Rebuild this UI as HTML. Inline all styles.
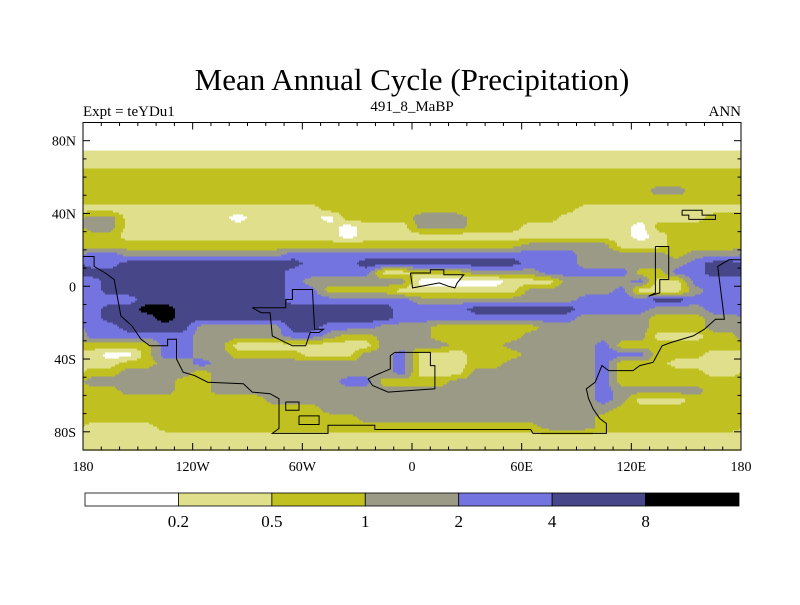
<!DOCTYPE html>
<html><head><meta charset="utf-8">
<style>
html,body{margin:0;padding:0;background:#fff;}
body{width:800px;height:600px;overflow:hidden;font-family:"Liberation Serif",serif;}
</style></head>
<body>
<svg id="chart" width="800" height="600" xmlns="http://www.w3.org/2000/svg" font-family="Liberation Serif, serif">
<rect width="800" height="600" fill="#fff"/>
<text x="412" y="90" font-size="31" text-anchor="middle">Mean Annual Cycle (Precipitation)</text>
<text x="83" y="116" font-size="15">Expt = teYDu1</text>
<text x="412" y="111" font-size="15" text-anchor="middle">491_8_MaBP</text>
<text x="741" y="116" font-size="15" text-anchor="end">ANN</text>
<g id="cells"></g>
<g id="coast"></g>
<rect x="83" y="122.5" width="658" height="327.5" fill="none" stroke="#000" stroke-width="1"/>
<g id="ticks"></g>
<g id="cbar"></g>
</svg>
<script>
const NS="http://www.w3.org/2000/svg";
const colors=["#ffffff","#e0e08c","#c0c020","#9a9a86","#7474e0","#464688","#000000"];
const levels=["0.2","0.5","1","2","4","8"];
const xTickLabels=["180","120W","60W","0","60E","120E","180"];
const xTickLons=[-180,-120,-60,0,60,120,180];
const yTickLabels=["80N","40N","0","40S","80S"];
const yTickLats=[80,40,0,-40,-80];
// class grid: rows from 87.5N to 87.5S step 5, cols from 175W to 175E step 10
const gridRows=[
"000000000000000000000000000000000000",
"000000000000000000000000000000000000",
"000000000000000000000000000000000000",
"111111111111111111111111111111111111",
"111111111111111111111111111111111111",
"222222222222222222222222222222222222",
"222222222222222222222222222222222222",
"222222222222222222222222222222233222",
"222222222222222222222222222222222222",
"111111111111122222222222222111111111",
"331111110111102222333222221111111122",
"331111111111110111333222111111022222",
"221111111111110111111111111111012222",
"222222222222222222222222333331112222",
"443333333334444444444444444333332333",
"445555555555444555555555444333333455",
"555555555554444411222333344444224455",
"455555555554333333000001113333411444",
"455555555554422221111111333334111344",
"444555555554444444333333333444455444",
"455665555555555554444555555444433344",
"455565555555555554444444444333322233",
"445555333335544433322222233333322233",
"444444333334432233322222333333311122",
"222244331111111133332223333342222222",
"100244332222111334111222333344422211",
"112233433333333334111223333342221111",
"223333233333333334111333333342222211",
"333332233333334422223333333342222222",
"223332233333333333333333333343333322",
"222222222233333333333333333343111222",
"222222222222233333333333333332222222",
"222222222222222333333333333322222222",
"111122222222222222222222233322222222",
"111111111111111111111111111111111111",
"111111111111111111111111111111111111"
];
const X0=83,X1=741,Y0=122.5,Y1=450;
function xScale(lon){return X0+(lon+180)/360*(X1-X0);}
function yScale(lat){return Y0+(90-lat)/180*(Y1-Y0);}
function val(r,c){r=Math.max(0,Math.min(35,r));c=((c%36)+36)%36;return +gridRows[r][c];}
function sample(lon,lat){
  const fc=(lon+175)/10, fr=(87.5-lat)/5;
  const c0=Math.floor(fc), r0=Math.floor(fr), tc=fc-c0, tr=fr-r0;
  const a=val(r0,c0),b=val(r0,c0+1),c=val(r0+1,c0),d=val(r0+1,c0+1);
  return (a*(1-tc)+b*tc)*(1-tr)+(c*(1-tc)+d*tc)*tr;
}
const cells=document.getElementById('cells');
const step=2;
for(let y=Y0;y<Y1;y+=step){
  const lat=90-(y+step/2-Y0)/(Y1-Y0)*180;
  let runStart=X0,runCls=-1;
  for(let x=X0;x<=X1;x+=step){
    let cls=-2;
    if(x<X1){const lon=-180+(x+step/2-X0)/(X1-X0)*360;cls=Math.round(sample(lon,lat));}
    if(cls!==runCls){
      if(runCls>=0){
        const r=document.createElementNS(NS,'rect');
        
        
        r.setAttribute('x',runStart);r.setAttribute('y',y);
        r.setAttribute('width',Math.min(x,X1)-runStart+0.4);r.setAttribute('height',step+0.4);
        r.setAttribute('fill',colors[runCls]);cells.appendChild(r);
      }
      runStart=x;runCls=cls;
    }
  }
}
function zl(zx,zy){return [-180+(zx-50)*0.2437,80-(zy-120)*0.1818];}
const coastLines=[
[[50,470],[75,470],[75,500],[100,520],[120,540],[135,650],[160,680],[180,720],[200,740],[240,740],[240,720],[260,720],[260,780],[275,820],[300,830],[330,850],[410,855],[430,880],[470,885],[490,900],[490,990],[475,1005],[600,1005],[600,980],[705,980],[705,993],[1055,993],[1060,1005],[1225,1005],[1225,975],[1210,960],[1195,930],[1185,900],[1180,870],[1200,850],[1215,800],[1230,815],[1285,815],[1300,800],[1330,790],[1350,740],[1370,730],[1420,710],[1445,690],[1470,660],[1490,660],[1475,500],[1500,480],[1527,480]],
[[430,625],[450,640],[470,640],[475,710],[520,740],[550,740],[560,700],[580,700],[590,690],[570,690],[565,570],[520,570],[520,600],[505,600],[505,625],[430,625]],
[[785,520],[830,520],[830,510],[860,510],[860,525],[905,525],[890,550],[885,565],[870,560],[850,550],[790,565],[785,520]],
[[750,760],[830,760],[830,800],[840,800],[840,870],[735,880],[700,860],[690,840],[705,830],[740,810],[740,770],[750,760]],
[[1335,440],[1365,440],[1365,540],[1345,540],[1345,580],[1320,590],[1335,580],[1335,440]],
[[1395,330],[1395,345],[1410,345],[1410,358],[1470,358],[1470,345],[1440,345],[1440,330],[1395,330]],
[[505,910],[535,910],[535,935],[505,935],[505,910]],
[[535,952],[580,952],[580,978],[535,978],[535,952]]
];
const coast=document.getElementById('coast');
coastLines.forEach(line=>{
  const p=document.createElementNS(NS,'polyline');
  
  
  p.setAttribute('points',line.map(q=>{const [lo,la]=zl(q[0],q[1]);return xScale(lo).toFixed(1)+','+yScale(la).toFixed(1);}).join(' '));
  p.setAttribute('fill','none');p.setAttribute('stroke','#000');p.setAttribute('stroke-width','1');
  coast.appendChild(p);
});
const ticks=document.getElementById('ticks');
function line(x1,y1,x2,y2,name){const l=document.createElementNS(NS,'line');
  
  
  l.setAttribute('x1',x1);l.setAttribute('y1',y1);l.setAttribute('x2',x2);l.setAttribute('y2',y2);l.setAttribute('stroke','#000');ticks.appendChild(l);}
function text(x,y,s,anchor,size,name,parent){const t=document.createElementNS(NS,'text');
  
  
  t.setAttribute('x',x);t.setAttribute('y',y);t.setAttribute('text-anchor',anchor);t.setAttribute('font-size',size);t.textContent=s;parent.appendChild(t);}
for(let lon=-180;lon<=180;lon+=10){const x=xScale(lon),L=(lon%60===0)?7:3.5;line(x,Y0,x,Y0+L,'x-tick-top');line(x,Y1,x,Y1-L,'x-tick-bottom');}
for(let lat=-90;lat<=90;lat+=10){const y=yScale(lat),L=(lat%40===0)?7:3.5;line(X0,y,X0+L,y,'y-tick-left');line(X1,y,X1-L,y,'y-tick-right');}
xTickLabels.forEach((s,i)=>text(xScale(xTickLons[i]),471,s,'middle',14,'x-tick-label',ticks));
yTickLabels.forEach((s,i)=>text(76,yScale(yTickLats[i])+5,s,'end',14,'y-tick-label',ticks));
const cbar=document.getElementById('cbar');
const CB0=85,CB1=739,cw=(CB1-CB0)/colors.length;
colors.forEach((c,i)=>{const r=document.createElementNS(NS,'rect');
  
  
  r.setAttribute('x',CB0+i*cw);r.setAttribute('y',493);r.setAttribute('width',cw);r.setAttribute('height',13);r.setAttribute('fill',c);r.setAttribute('stroke','#000');r.setAttribute('stroke-width','0.8');cbar.appendChild(r);});
levels.forEach((s,i)=>text(CB0+(i+1)*cw,527,s,'middle',17,'colorbar-label',cbar));
</script>
</body></html>
